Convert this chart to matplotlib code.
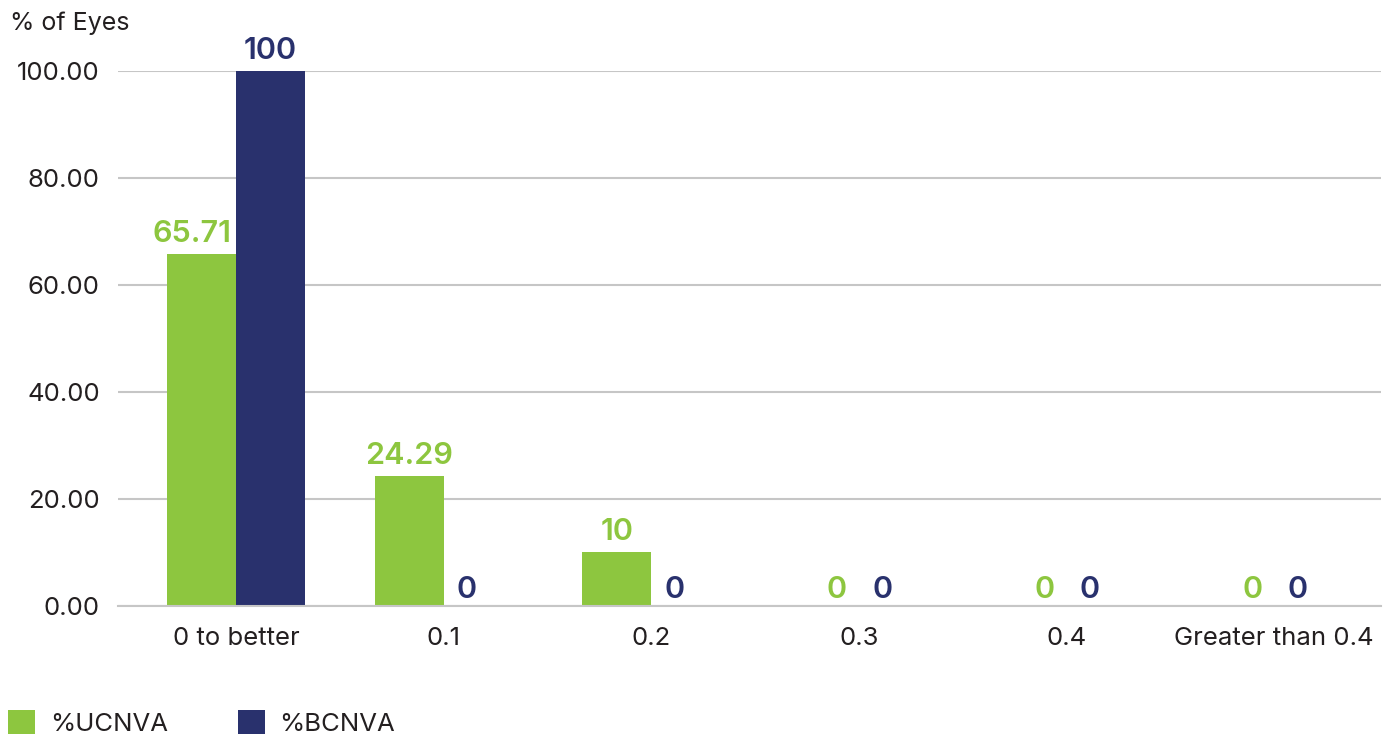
import numpy as np
import matplotlib.pyplot as plt

plt.rcParams['font.family'] = ['Inter', 'DejaVu Sans']

categories = ["0 to better", "0.1", "0.2", "0.3", "0.4", "Greater than 0.4"]
ucnva = [65.71, 24.29, 10, 0, 0, 0]
bcnva = [100, 0, 0, 0, 0, 0]
series_names = ["%UCNVA", "%BCNVA"]

GREEN = "#8dc63f"
NAVY = "#29316d"
TEXT = "#231f20"
GRID = "#c6c6c6"

fig = plt.figure(figsize=(13.87, 7.39), dpi=100)
ax = fig.add_axes([0.0851, 0.18, 0.9106, 0.724])

x = np.arange(len(categories))
w = 0.332
b1 = ax.bar(x - w / 2, ucnva, w, color=GREEN, label=series_names[0], zorder=2)
b2 = ax.bar(x + w / 2, bcnva, w, color=NAVY, label=series_names[1], zorder=2)

# data labels: zeros nudged towards the category centre,
# the first green label nudged left so it clears the tall navy bar
for bars, vals, col, shift in [(b1, ucnva, GREEN, 9), (b2, bcnva, NAVY, -8)]:
    for i, (r, v) in enumerate(zip(bars, vals)):
        if v == 0:
            dx, dy = shift, 1.5
        else:
            dx, dy = 0, 4.5
            if col == GREEN and bcnva[i] > v:
                dx = -7
        ax.annotate(f"{v:g}", (r.get_x() + r.get_width() / 2, v),
                    xytext=(dx, dy), textcoords="offset points",
                    ha="center", va="bottom", color=col,
                    fontsize=22, fontweight="semibold")

ax.set_xlim(-0.568, 5.515)
ax.set_ylim(0, 100)
ax.set_yticks([0, 20, 40, 60, 80, 100])
ax.set_yticklabels([f"{t:.2f}" for t in [0, 20, 40, 60, 80, 100]])
ax.set_xticks(x)
ax.set_xticklabels(categories)
ax.grid(axis="y", color=GRID, linewidth=1.5, zorder=0)
ax.set_axisbelow(True)
for s in ["top", "right", "left"]:
    ax.spines[s].set_visible(False)
ax.spines["bottom"].set_color(GRID)
ax.spines["bottom"].set_linewidth(1.5)
ax.spines["bottom"].set_zorder(3)
ax.tick_params(axis="both", length=0, labelsize=18.5, colors=TEXT)
ax.tick_params(axis="x", pad=15)
ax.tick_params(axis="y", pad=13)

fig.text(0.007, 0.968, "% of Eyes", fontsize=18, color=TEXT, va="center", ha="left")

fig.legend(loc="lower left", bbox_to_anchor=(0.006, 0.004), ncol=2, frameon=False,
           fontsize=18.5, handlelength=1.05, handleheight=1.05, handletextpad=0.58,
           columnspacing=2.7, borderpad=0, borderaxespad=0, labelcolor=TEXT)

fig.savefig("out.png", dpi=100)
